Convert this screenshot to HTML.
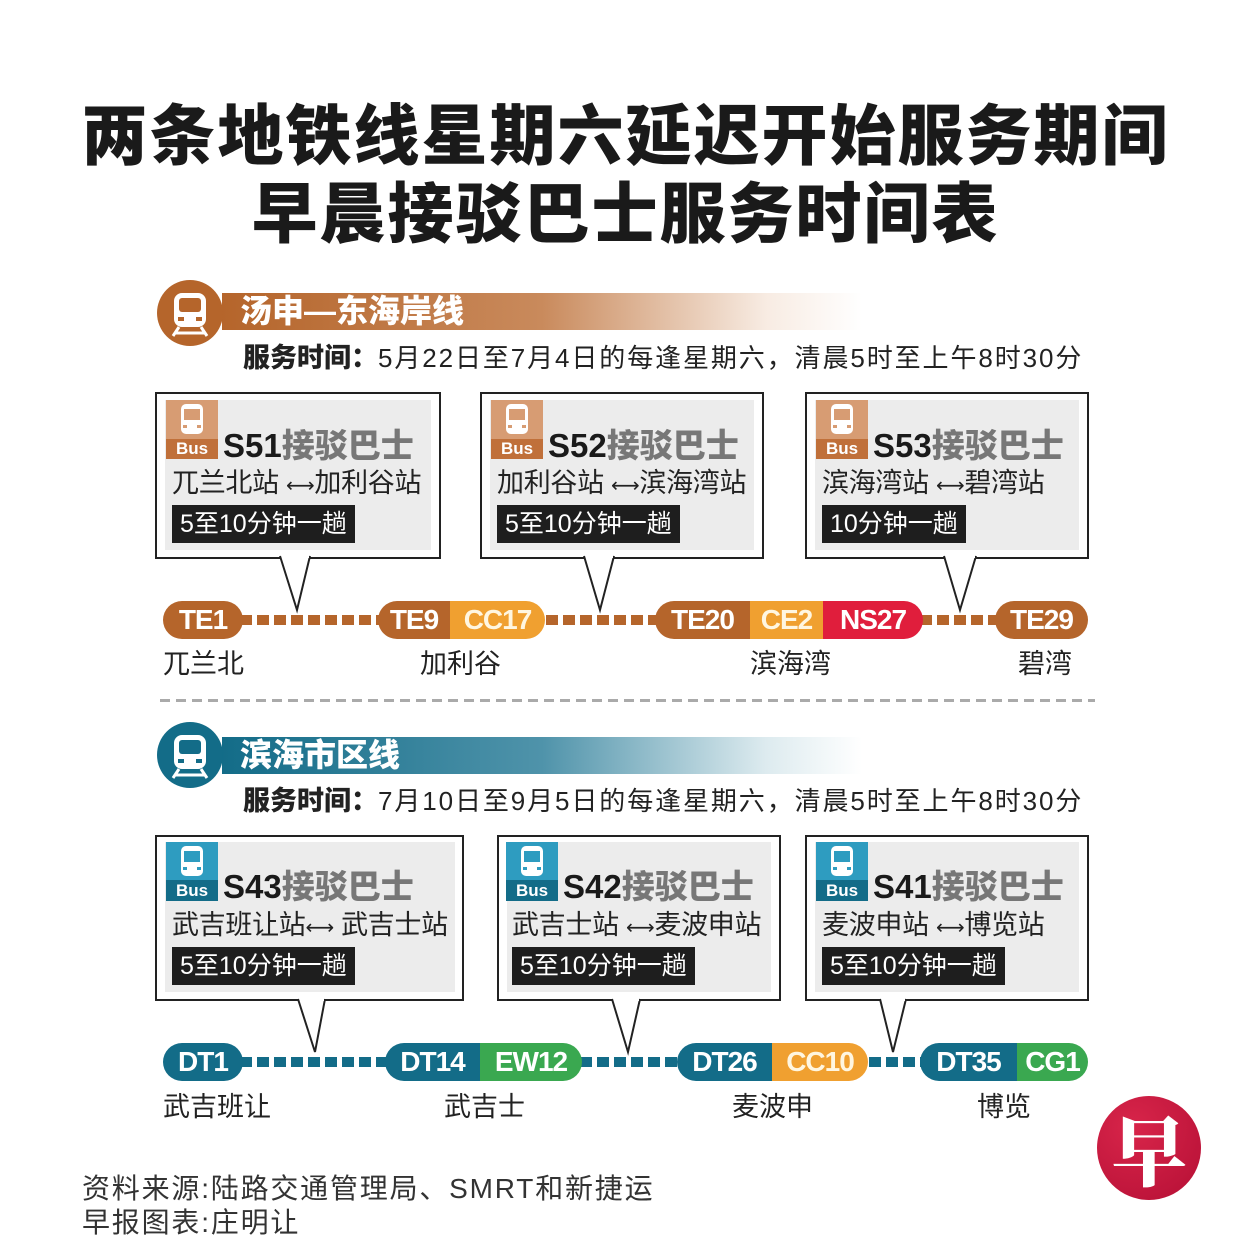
<!DOCTYPE html>
<html><head><meta charset="utf-8">
<style>
*{margin:0;padding:0;box-sizing:border-box}
body{width:1251px;height:1251px;background:#fff;position:relative;overflow:hidden;font-family:"Liberation Sans","Noto Sans CJK SC",sans-serif;color:#222}
.a{position:absolute;white-space:nowrap}
.title{left:0;width:1251px;text-align:center;font-weight:900;font-size:66px;color:#1a1a1a;letter-spacing:2px;line-height:80px}
.circ{width:66px;height:66px;border-radius:50%}
.banner{height:37px;color:#fff;font-weight:900;font-size:32px;line-height:37px;padding-left:18px}
.svc{font-size:26px;color:#222;line-height:30px;letter-spacing:1.9px}
.svc b{font-size:27px;font-weight:900;letter-spacing:0}
.box{border:2px solid #222;background:#fff}
.inner{background:#ececec}
.bus{width:52px;height:59px}
.bt{font-size:33px;font-weight:900;color:#777;line-height:40px}
.bt span{color:#1a1a1a}
.rt{font-size:27px;color:#222;line-height:34px;letter-spacing:-0.3px}
.rt i{font-style:normal;font-family:"DejaVu Sans",sans-serif;font-size:20px}
.tag{background:#1e1e1e;color:#fff;font-size:25px;height:38px;line-height:38px;padding:0 8px}
.pill{height:38px;border-radius:19px;overflow:hidden;display:flex}
.pill div{color:#fff;font-size:28px;font-weight:bold;line-height:38px;text-align:center;letter-spacing:-1px}
.dots{height:10px}
.lab{font-size:27px;color:#222;line-height:32px}
</style></head><body>

<div class="a title" style="top:96px">两条地铁线星期六延迟开始服务期间</div>
<div class="a title" style="top:174px">早晨接驳巴士服务时间表</div>

<div class="a banner" style="left:222px;top:293px;width:640px;background:linear-gradient(90deg,#b5652b 0%,#c98a5c 50%,rgba(230,190,160,0.3) 85%,rgba(255,255,255,0) 100%)">汤申—东海岸线</div>
<div class="a circ" style="left:157px;top:280px;background:#b5652b"></div>
<svg class="a" style="left:157px;top:280px" width="66" height="66"><rect x="17" y="13" width="32" height="34" rx="8" fill="#fff"/><rect x="22" y="18" width="22" height="14" rx="3" fill="#b5652b"/><rect x="21" y="37" width="6" height="4" fill="#b5652b"/><rect x="39" y="37" width="6" height="4" fill="#b5652b"/><path d="M22 47 L16 56 M44 47 L50 56 M18 53 H48" stroke="#fff" stroke-width="3"/></svg>
<div class="a svc" style="left:243px;top:343px"><b>服务时间：</b>5月22日至7月4日的每逢星期六，清晨5时至上午8时30分</div>

<div class="a banner" style="left:222px;top:737px;width:640px;background:linear-gradient(90deg,#136c88 0%,#4f93aa 50%,rgba(170,205,215,0.4) 85%,rgba(255,255,255,0) 100%)">滨海市区线</div>
<div class="a circ" style="left:157px;top:722px;background:#136c88"></div>
<svg class="a" style="left:157px;top:722px" width="66" height="66"><rect x="17" y="13" width="32" height="34" rx="8" fill="#fff"/><rect x="22" y="18" width="22" height="14" rx="3" fill="#136c88"/><rect x="21" y="37" width="6" height="4" fill="#136c88"/><rect x="39" y="37" width="6" height="4" fill="#136c88"/><path d="M22 47 L16 56 M44 47 L50 56 M18 53 H48" stroke="#fff" stroke-width="3"/></svg>
<div class="a svc" style="left:243px;top:786px"><b>服务时间：</b>7月10日至9月5日的每逢星期六，清晨5时至上午8时30分</div>

<div class="a" style="left:160px;top:699px;width:935px;height:3px;background:repeating-linear-gradient(90deg,#aaa 0 10px,transparent 10px 16px)"></div>

<div class="a box" style="left:155px;top:392px;width:286px;height:167px"></div>
<div class="a inner" style="left:165px;top:400px;width:266px;height:150px"></div>
<div class="a box" style="left:480px;top:392px;width:284px;height:167px"></div>
<div class="a inner" style="left:490px;top:400px;width:264px;height:150px"></div>
<div class="a box" style="left:805px;top:392px;width:284px;height:167px"></div>
<div class="a inner" style="left:815px;top:400px;width:264px;height:150px"></div>
<div class="a box" style="left:155px;top:835px;width:309px;height:166px"></div>
<div class="a inner" style="left:165px;top:842px;width:290px;height:150px"></div>
<div class="a box" style="left:497px;top:835px;width:284px;height:166px"></div>
<div class="a inner" style="left:507px;top:842px;width:264px;height:150px"></div>
<div class="a box" style="left:805px;top:835px;width:284px;height:166px"></div>
<div class="a inner" style="left:815px;top:842px;width:264px;height:150px"></div>

<svg class="a" style="left:0;top:0" width="1251" height="1251">
<g fill="#fff" stroke="#222" stroke-width="2">
<path d="M280 556 L297 610 L310 556"/>
<path d="M584 556 L600 610 L614 556"/>
<path d="M944 556 L960 610 L976 556"/>
<path d="M298 999 L315 1052 L325 999"/>
<path d="M612 999 L628 1052 L640 999"/>
<path d="M880 999 L893 1052 L906 999"/>
</g>
<g fill="#fff"><rect x="282" y="553" width="27" height="5"/><rect x="586" y="553" width="27" height="5"/><rect x="946" y="553" width="29" height="5"/><rect x="300" y="996" width="24" height="5"/><rect x="614" y="996" width="25" height="5"/><rect x="882" y="996" width="23" height="5"/></g>
</svg>

<div class="a bus" style="left:166px;top:400px;background:#d79c73"></div><div class="a" style="left:166px;top:439px;width:52px;height:20px;background:#c0703a;color:#fff;font-weight:bold;font-size:17px;text-align:center;line-height:20px">Bus</div>
<svg class="a" style="left:178px;top:402px" width="28" height="36"><rect x="3" y="2" width="22" height="30" rx="5" fill="#fff"/><rect x="6" y="7" width="16" height="11" fill="#d79c73"/><rect x="5" y="23" width="4" height="3" fill="#d79c73"/><rect x="19" y="23" width="4" height="3" fill="#d79c73"/></svg>
<div class="a bt" style="left:223px;top:426px"><span>S51</span>接驳巴士</div>
<div class="a rt" style="left:172px;top:466px">兀兰北站 <i>⟷</i>加利谷站</div>
<div class="a tag" style="left:172px;top:505px">5至10分钟一趟</div>

<div class="a bus" style="left:491px;top:400px;background:#d79c73"></div><div class="a" style="left:491px;top:439px;width:52px;height:20px;background:#c0703a;color:#fff;font-weight:bold;font-size:17px;text-align:center;line-height:20px">Bus</div>
<svg class="a" style="left:503px;top:402px" width="28" height="36"><rect x="3" y="2" width="22" height="30" rx="5" fill="#fff"/><rect x="6" y="7" width="16" height="11" fill="#d79c73"/><rect x="5" y="23" width="4" height="3" fill="#d79c73"/><rect x="19" y="23" width="4" height="3" fill="#d79c73"/></svg>
<div class="a bt" style="left:548px;top:426px"><span>S52</span>接驳巴士</div>
<div class="a rt" style="left:497px;top:466px">加利谷站 <i>⟷</i>滨海湾站</div>
<div class="a tag" style="left:497px;top:505px">5至10分钟一趟</div>

<div class="a bus" style="left:816px;top:400px;background:#d79c73"></div><div class="a" style="left:816px;top:439px;width:52px;height:20px;background:#c0703a;color:#fff;font-weight:bold;font-size:17px;text-align:center;line-height:20px">Bus</div>
<svg class="a" style="left:828px;top:402px" width="28" height="36"><rect x="3" y="2" width="22" height="30" rx="5" fill="#fff"/><rect x="6" y="7" width="16" height="11" fill="#d79c73"/><rect x="5" y="23" width="4" height="3" fill="#d79c73"/><rect x="19" y="23" width="4" height="3" fill="#d79c73"/></svg>
<div class="a bt" style="left:873px;top:426px"><span>S53</span>接驳巴士</div>
<div class="a rt" style="left:822px;top:466px">滨海湾站 <i>⟷</i>碧湾站</div>
<div class="a tag" style="left:822px;top:505px">10分钟一趟</div>

<div class="a bus" style="left:166px;top:842px;background:#2e9cc0"></div><div class="a" style="left:166px;top:880px;width:52px;height:21px;background:#136c88;color:#fff;font-weight:bold;font-size:17px;text-align:center;line-height:21px">Bus</div>
<svg class="a" style="left:178px;top:844px" width="28" height="36"><rect x="3" y="2" width="22" height="30" rx="5" fill="#fff"/><rect x="6" y="7" width="16" height="11" fill="#2e9cc0"/><rect x="5" y="23" width="4" height="3" fill="#2e9cc0"/><rect x="19" y="23" width="4" height="3" fill="#2e9cc0"/></svg>
<div class="a bt" style="left:223px;top:867px"><span>S43</span>接驳巴士</div>
<div class="a rt" style="left:172px;top:908px">武吉班让站<i>⟷</i> 武吉士站</div>
<div class="a tag" style="left:172px;top:947px">5至10分钟一趟</div>

<div class="a bus" style="left:506px;top:842px;background:#2e9cc0"></div><div class="a" style="left:506px;top:880px;width:52px;height:21px;background:#136c88;color:#fff;font-weight:bold;font-size:17px;text-align:center;line-height:21px">Bus</div>
<svg class="a" style="left:518px;top:844px" width="28" height="36"><rect x="3" y="2" width="22" height="30" rx="5" fill="#fff"/><rect x="6" y="7" width="16" height="11" fill="#2e9cc0"/><rect x="5" y="23" width="4" height="3" fill="#2e9cc0"/><rect x="19" y="23" width="4" height="3" fill="#2e9cc0"/></svg>
<div class="a bt" style="left:563px;top:867px"><span>S42</span>接驳巴士</div>
<div class="a rt" style="left:512px;top:908px">武吉士站 <i>⟷</i>麦波申站</div>
<div class="a tag" style="left:512px;top:947px">5至10分钟一趟</div>

<div class="a bus" style="left:816px;top:842px;background:#2e9cc0"></div><div class="a" style="left:816px;top:880px;width:52px;height:21px;background:#136c88;color:#fff;font-weight:bold;font-size:17px;text-align:center;line-height:21px">Bus</div>
<svg class="a" style="left:828px;top:844px" width="28" height="36"><rect x="3" y="2" width="22" height="30" rx="5" fill="#fff"/><rect x="6" y="7" width="16" height="11" fill="#2e9cc0"/><rect x="5" y="23" width="4" height="3" fill="#2e9cc0"/><rect x="19" y="23" width="4" height="3" fill="#2e9cc0"/></svg>
<div class="a bt" style="left:873px;top:867px"><span>S41</span>接驳巴士</div>
<div class="a rt" style="left:822px;top:908px">麦波申站 <i>⟷</i>博览站</div>
<div class="a tag" style="left:822px;top:947px">5至10分钟一趟</div>

<div class="a dots" style="left:240px;top:615px;width:760px;background:repeating-linear-gradient(90deg,#b5652b 0 12px,transparent 12px 17px)"></div>
<div class="a pill" style="left:163px;top:601px;width:80px"><div style="width:80px;background:#b5652b">TE1</div></div>
<div class="a pill" style="left:378px;top:601px;width:167px"><div style="width:72px;background:#b5652b">TE9</div><div style="width:95px;background:#f0a030;color:#fff6e0">CC17</div></div>
<div class="a pill" style="left:655px;top:601px;width:268px"><div style="width:95px;background:#b5652b">TE20</div><div style="width:73px;background:#f0a030;color:#fff6e0">CE2</div><div style="width:100px;background:#e01e3c">NS27</div></div>
<div class="a pill" style="left:995px;top:601px;width:93px"><div style="width:93px;background:#b5652b">TE29</div></div>
<div class="a lab" style="left:163px;top:648px">兀兰北</div>
<div class="a lab" style="left:420px;top:648px">加利谷</div>
<div class="a lab" style="left:750px;top:648px">滨海湾</div>
<div class="a lab" style="left:1018px;top:648px">碧湾</div>

<div class="a dots" style="left:240px;top:1057px;width:700px;background:repeating-linear-gradient(90deg,#136c88 0 12px,transparent 12px 17px)"></div>
<div class="a pill" style="left:163px;top:1043px;width:80px"><div style="width:80px;background:#136c88">DT1</div></div>
<div class="a pill" style="left:385px;top:1043px;width:197px"><div style="width:95px;background:#136c88">DT14</div><div style="width:102px;background:#3aa850">EW12</div></div>
<div class="a pill" style="left:677px;top:1043px;width:191px"><div style="width:95px;background:#136c88">DT26</div><div style="width:96px;background:#f0a030;color:#fff6e0">CC10</div></div>
<div class="a pill" style="left:920px;top:1043px;width:168px"><div style="width:97px;background:#136c88">DT35</div><div style="width:71px;background:#3aa850">CG1</div></div>
<div class="a lab" style="left:163px;top:1091px">武吉班让</div>
<div class="a lab" style="left:444px;top:1091px">武吉士</div>
<div class="a lab" style="left:732px;top:1091px">麦波申</div>
<div class="a lab" style="left:977px;top:1091px">博览</div>

<div class="a" style="left:82px;top:1172px;font-size:28px;color:#333;line-height:34px;letter-spacing:1.8px">资料来源:陆路交通管理局、SMRT和新捷运</div>
<div class="a" style="left:82px;top:1206px;font-size:28px;color:#333;line-height:34px;letter-spacing:1.8px">早报图表:庄明让</div>
<div class="a" style="left:1097px;top:1096px;width:104px;height:104px;border-radius:50%;background:radial-gradient(circle at 35% 30%,#d8254a,#b50f35);color:#fff;font-size:76px;font-weight:900;text-align:center;line-height:104px;font-family:'Noto Serif CJK SC',serif">早</div>
</body></html>
